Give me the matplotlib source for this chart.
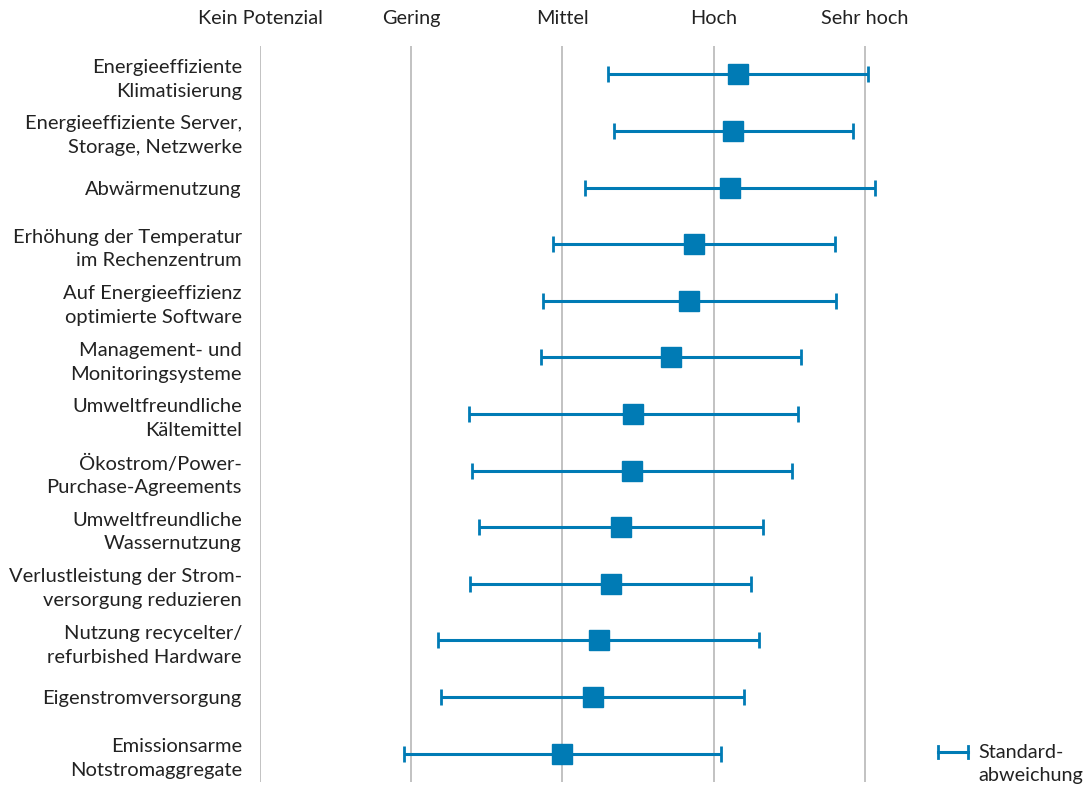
import matplotlib
matplotlib.use("Agg")
import matplotlib.pyplot as plt
from matplotlib.lines import Line2D

plt.rcParams['font.family'] = ['Lato', 'DejaVu Sans']

measures = [
    "Energieeffiziente\nKlimatisierung",
    "Energieeffiziente Server,\nStorage, Netzwerke",
    "Abwärmenutzung",
    "Erhöhung der Temperatur\nim Rechenzentrum",
    "Auf Energieeffizienz\noptimierte Software",
    "Management- und\nMonitoringsysteme",
    "Umweltfreundliche\nKältemittel",
    "Ökostrom/Power-\nPurchase-Agreements",
    "Umweltfreundliche\nWassernutzung",
    "Verlustleistung der Strom-\nversorgung reduzieren",
    "Nutzung recycelter/\nrefurbished Hardware",
    "Eigenstromversorgung",
    "Emissionsarme\nNotstromaggregate",
]
mean_score = [3.16, 3.13, 3.11, 2.87, 2.84, 2.72, 2.47, 2.46, 2.39, 2.32, 2.24, 2.20, 2.00]
std_dev = [0.86, 0.79, 0.96, 0.93, 0.97, 0.86, 1.09, 1.06, 0.94, 0.93, 1.06, 1.00, 1.05]
scale_labels = ["Kein Potenzial", "Gering", "Mittel", "Hoch", "Sehr hoch"]

blue = "#007BB5"
text_col = "#222222"

W, H = 1089, 786
fig = plt.figure(figsize=(W / 100, H / 100), dpi=100)
x0, x1 = 260, 260 + 4.3 * 151.2
y_top, y_bot = 46, 782
ax = fig.add_axes([x0 / W, 1 - y_bot / H, (x1 - x0) / W, (y_bot - y_top) / H])

ypos = list(range(len(measures)))
ax.errorbar(mean_score, ypos, xerr=std_dev, fmt="s", color=blue, ecolor=blue,
            markersize=14, elinewidth=2.2, capsize=6, capthick=2.0, zorder=3)

ax.set_xlim(0, 4.3)
ax.set_ylim(len(measures) - 0.5, -0.5)
for v in range(len(scale_labels)):
    ax.axvline(v, color="#BDBDBD", lw=1.3, zorder=1)

ax.set_yticks(ypos)
ax.set_yticklabels(measures, fontsize=14.5, color=text_col, linespacing=1.48)
ax.set_xticks(range(len(scale_labels)))
ax.set_xticklabels(scale_labels, fontsize=14.3, color=text_col)
ax.xaxis.tick_top()
ax.tick_params(axis="y", length=0, pad=13)
ax.tick_params(axis="x", length=0, pad=14)
for s in ax.spines.values():
    s.set_visible(False)

# legend key for the standard deviation
ly = 1 - 752 / H
fig.add_artist(Line2D([938 / W, 968 / W], [ly, ly], color=blue, lw=2.2))
for xx in (938, 968):
    fig.add_artist(Line2D([xx / W, xx / W], [ly - 6 / H, ly + 6 / H], color=blue, lw=2.0))
fig.text(978 / W, 1 - 764 / H, "Standard-\nabweichung", fontsize=14.3, color=text_col,
         va="center", ha="left", linespacing=1.48)

fig.savefig("out.png", dpi=100)
